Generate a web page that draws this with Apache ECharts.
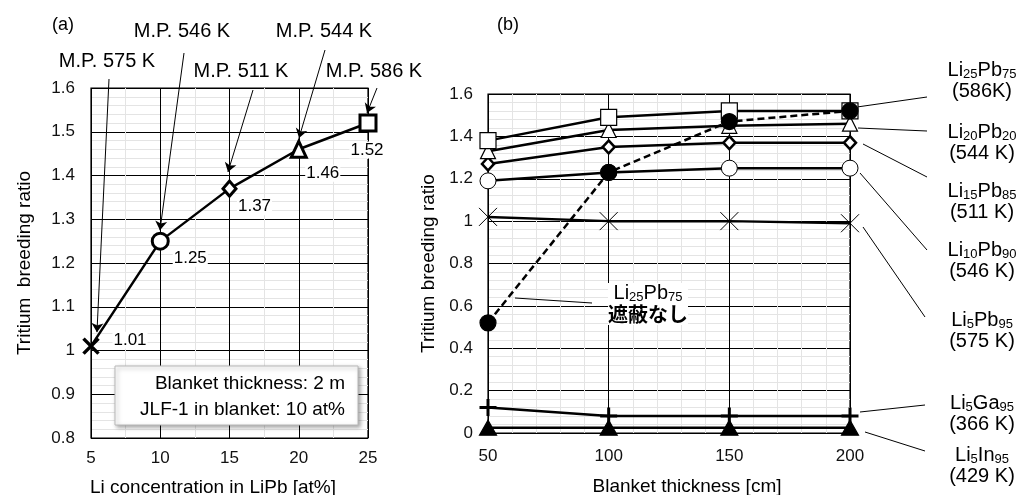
<!DOCTYPE html>
<html>
<head>
<meta charset="utf-8">
<script src="https://cdn.jsdelivr.net/npm/echarts@6/dist/echarts.min.js"></script>
<style>
  html, body { margin: 0; padding: 0; background: #fff; }
  #chart { width: 1023px; height: 495px; }
</style>
</head>
<body>
<div id="chart"></div>
<script>
// (a) TBR vs Li concentration, blanket 2 m
const liConc = [5, 10, 15, 20, 25];
const tbrByConc = [1.01, 1.25, 1.37, 1.46, 1.52];
const meltLabels = ['M.P. 575 K', 'M.P. 546 K', 'M.P. 511 K', 'M.P. 544 K', 'M.P. 586 K'];

// (b) TBR vs blanket thickness
const thickness = [50, 100, 150, 200];
const li25pb75 = [1.38, 1.49, 1.52, 1.52];
const li20pb80 = [1.33, 1.43, 1.45, 1.46];
const li15pb85 = [1.27, 1.35, 1.37, 1.37];
const li10pb90 = [1.19, 1.23, 1.25, 1.25];
const li5pb95 = [1.02, 1.0, 1.0, 0.99];
const li25pb75NoShield = [0.52, 1.23, 1.47, 1.52];
const li5ga95 = [0.12, 0.08, 0.08, 0.08];
const li5in95 = [0.025, 0.025, 0.025, 0.025];

const FONT = 'Liberation Sans, Arial, sans-serif';
const CROSS = 'path://M0,0L10,10M10,0L0,10';
const PLUS = 'path://M5,0L5,10M0,5L10,5';

const chart = echarts.init(document.getElementById('chart'), null, { renderer: 'canvas' });

// marker style per point of panel (a)
const leftMarks = [
  { symbol: CROSS, symbolSize: 15, itemStyle: { borderWidth: 3.5 }, label: { offset: [39, -6] } },
  { symbol: 'circle', symbolSize: 16, label: { offset: [30, 17] } },
  { symbol: 'diamond', symbolSize: [13, 15], label: { offset: [25, 18] } },
  { symbol: 'triangle', symbolSize: [15, 16], label: { offset: [24, 24] } },
  { symbol: 'rect', symbolSize: 16, label: { offset: [-1, 27] } }
];

// arrow tails in pixels, heads in data coordinates
const arrowFrom = [[109, 79], [184, 53], [253, 90], [325, 50], [377, 88]];
const arrowTo = [[5.43, 1.042], [9.98, 1.275], [14.89, 1.408], [20.02, 1.486], [24.93, 1.543]];
const meltPos = [[107, 61], [182, 31], [241, 71], [324, 31], [374, 71]];

function axisCommon(min, max, interval, minorSplit, margin) {
  return {
    type: 'value', min: min, max: max, interval: interval,
    axisLine: { show: false },
    axisTick: { show: false },
    axisLabel: { color: '#111', fontSize: 17, fontFamily: FONT, margin: margin },
    splitLine: { show: true, lineStyle: { color: '#000', width: 1 } },
    minorTick: { show: false, splitNumber: minorSplit },
    minorSplitLine: { show: true, lineStyle: { color: '#e4e4e4', width: 1 } }
  };
}

function rightLine(name, values, symbol, size, itemStyle, lineStyle) {
  return {
    name: name, type: 'line', xAxisIndex: 1, yAxisIndex: 1,
    data: thickness.map((t, i) => [t, values[i]]),
    symbol: symbol, symbolSize: size,
    showAllSymbol: true,
    color: '#000',
    itemStyle: Object.assign({ color: '#fff', borderColor: '#000', borderWidth: 1.2 }, itemStyle),
    lineStyle: Object.assign({ color: '#000', width: 2.5 }, lineStyle),
    emphasis: { disabled: true },
    silent: true
  };
}

const rightLabels = [
  ['{m|Li}{s|25}{m|Pb}{s|75}\n{m|(586K)}', 81],
  ['{m|Li}{s|20}{m|Pb}{s|20}\n{m|(544 K)}', 142.5],
  ['{m|Li}{s|15}{m|Pb}{s|85}\n{m|(511 K)}', 202],
  ['{m|Li}{s|10}{m|Pb}{s|90}\n{m|(546 K)}', 261],
  ['{m|Li}{s|5}{m|Pb}{s|95}\n{m|(575 K)}', 331],
  ['{m|Li}{s|5}{m|Ga}{s|95}\n{m|(366 K)}', 414],
  ['{m|Li}{s|5}{m|In}{s|95}\n{m|(429 K)}', 466]
];
const leaders = [
  [857, 107, 927, 97], [858, 128, 927, 131], [863, 144, 927, 177], [860, 173, 927, 250],
  [863, 227, 925, 317], [860, 412, 925, 405], [865, 432, 925, 451]
];
const rich = {
  m: { fontSize: 20, lineHeight: 21, align: 'center', fontFamily: FONT },
  s: { fontSize: 13, lineHeight: 10, align: 'center', verticalAlign: 'bottom', fontFamily: FONT }
};

const graphics = [];
graphics.push({ type: 'text', x: 63, y: 25, style: { text: '(a)', font: '18px ' + FONT, fill: '#000', align: 'center', verticalAlign: 'middle' } });
graphics.push({ type: 'text', x: 508, y: 25, style: { text: '(b)', font: '18px ' + FONT, fill: '#000', align: 'center', verticalAlign: 'middle' } });
meltLabels.forEach((t, i) => {
  graphics.push({ type: 'text', x: meltPos[i][0], y: meltPos[i][1], z: 10,
    style: { text: t, font: '20px ' + FONT, fill: '#000', align: 'center', verticalAlign: 'middle' } });
});
// note box
graphics.push({ type: 'rect', shape: { x: 115, y: 366, width: 243, height: 59 }, z: 10,
  style: { fill: '#fff', stroke: '#b8b8b8', lineWidth: 1, shadowBlur: 4, shadowOffsetX: 2, shadowOffsetY: 2, shadowColor: 'rgba(0,0,0,0.35)' } });
graphics.push({ type: 'text', x: 345, y: 384, z: 11,
  style: { text: 'Blanket thickness: 2 m', font: '19px ' + FONT, fill: '#000', align: 'right', verticalAlign: 'middle' } });
graphics.push({ type: 'text', x: 345, y: 410, z: 11,
  style: { text: 'JLF-1 in blanket: 10 at%', font: '19px ' + FONT, fill: '#000', align: 'right', verticalAlign: 'middle' } });
// right-hand labels
rightLabels.forEach((l, i) => {
  graphics.push({ type: 'text', x: 982, y: l[1],
    style: { text: l[0], rich: rich, fill: '#000', fontSize: 20, fontFamily: FONT, align: 'center', verticalAlign: 'middle' } });
  const p = leaders[i];
  graphics.push({ type: 'line', shape: { x1: p[0], y1: p[1], x2: p[2], y2: p[3] }, style: { stroke: '#000', lineWidth: 1 } });
});
// inner label for the unshielded case
graphics.push({ type: 'line', shape: { x1: 515, y1: 298, x2: 592, y2: 303 }, z: 10, style: { stroke: '#000', lineWidth: 1 } });
graphics.push({ type: 'text', x: 648, y: 304, z: 10,
  style: {
    text: '{m|Li}{s|25}{m|Pb}{s|75}\n{j|遮蔽なし}',
    rich: Object.assign({ j: { fontSize: 20, lineHeight: 21, align: 'center', fontWeight: 'bold', fontFamily: 'Noto Sans CJK JP' } }, rich),
    fill: '#000', align: 'center', verticalAlign: 'middle', backgroundColor: '#fff'
  } });

const option = {
  backgroundColor: '#fff',
  animation: false,
  grid: [
    { left: 91, right: 655, top: 88, bottom: 57, show: true, borderColor: '#000', borderWidth: 1.2, outerBoundsMode: 'none' },
    { left: 488, right: 173, top: 94, bottom: 62, show: true, borderColor: '#000', borderWidth: 1.2, outerBoundsMode: 'none' }
  ],
  xAxis: [
    Object.assign(axisCommon(5, 25, 5, 2, 12), {
      gridIndex: 0,
      name: 'Li concentration in LiPb [at%]', nameLocation: 'middle', nameGap: 40,
      nameTextStyle: { color: '#000', fontSize: 19, fontFamily: FONT, padding: [0, 33, 0, 0] }
    }),
    Object.assign(axisCommon(50, 200, 50, 5, 15), {
      gridIndex: 1,
      name: 'Blanket thickness [cm]', nameLocation: 'middle', nameGap: 44,
      nameTextStyle: { color: '#000', fontSize: 19, fontFamily: FONT, padding: [0, 0, 0, 36] }
    })
  ],
  yAxis: [
    Object.assign(axisCommon(0.8, 1.6, 0.1, 5, 16), {
      gridIndex: 0,
      name: 'Tritium  breeding ratio', nameLocation: 'middle', nameGap: 57,
      nameTextStyle: { color: '#000', fontSize: 19, fontFamily: FONT }
    }),
    Object.assign(axisCommon(0, 1.6, 0.2, 5, 15), {
      gridIndex: 1,
      name: 'Tritium breeding ratio', nameLocation: 'middle', nameGap: 50,
      nameTextStyle: { color: '#000', fontSize: 19, fontFamily: FONT }
    })
  ],
  series: [
    {
      name: 'TBR (2 m)', type: 'line', xAxisIndex: 0, yAxisIndex: 0,
      clip: false,
      data: liConc.map((x, i) => Object.assign({ value: [x, tbrByConc[i]] }, leftMarks[i])),
      color: '#000',
      itemStyle: { color: '#fff', borderColor: '#000', borderWidth: 3 },
      lineStyle: { color: '#000', width: 2.5 },
      label: {
        show: true, position: 'inside', color: '#000', fontSize: 17, fontFamily: FONT,
        backgroundColor: '#fff', padding: [0, 1],
        formatter: p => p.value[1].toFixed(2)
      },
      markLine: {
        silent: true, symbol: ['none', 'arrow'], symbolSize: 9, animation: false,
        label: { show: false },
        lineStyle: { color: '#000', width: 1, type: 'solid' },
        data: arrowFrom.map((p, i) => [{ x: p[0], y: p[1] }, { coord: arrowTo[i] }])
      },
      emphasis: { disabled: true },
      z: 3
    },
    rightLine('Li5In95', li5in95, 'triangle', [17, 15], { color: '#000' }),
    rightLine('Li5Ga95', li5ga95, PLUS, 17, { borderWidth: 3 }),
    rightLine('Li5Pb95', li5pb95, CROSS, 18, { borderWidth: 1 }),
    rightLine('Li10Pb90', li10pb90, 'circle', 16, { borderWidth: 1 }),
    rightLine('Li15Pb85', li15pb85, 'diamond', [12, 13], { borderWidth: 2.5 }),
    rightLine('Li20Pb80', li20pb80, 'triangle', [15, 15], {}),
    rightLine('Li25Pb75', li25pb75, 'rect', 16, {}),
    rightLine('Li25Pb75 no shield', li25pb75NoShield, 'circle', 16, { color: '#000' }, { type: [7, 4] })
  ],
  graphic: graphics
};

chart.setOption(option);
</script>
</body>
</html>
